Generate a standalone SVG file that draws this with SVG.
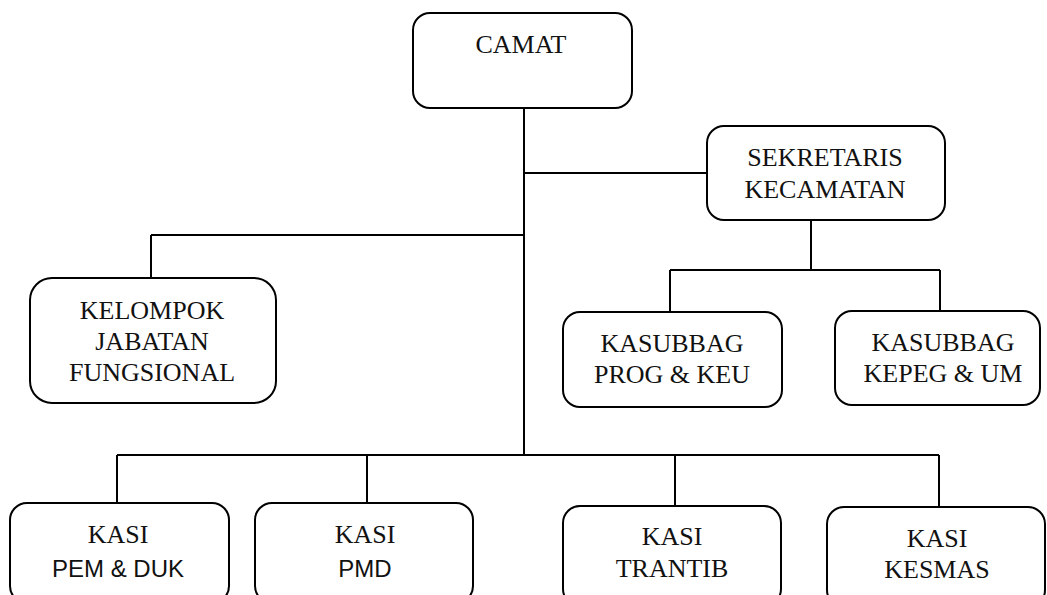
<svg xmlns="http://www.w3.org/2000/svg" width="1047" height="595" viewBox="0 0 1047 595">
<style>
.box{fill:#fff;stroke:#000;stroke-width:2}
.t{font-family:"Liberation Serif","Times New Roman",serif;font-size:26px;fill:#111;text-anchor:middle}
.s{font-family:"Liberation Sans",Arial,sans-serif;font-size:24px;fill:#111;text-anchor:middle}
.c{stroke:#000;stroke-width:2;fill:none}
</style>
<rect width="1047" height="595" fill="#fff"/>
<g id="connectors" class="c">
<line x1="524" y1="108" x2="524" y2="455"/>
<line x1="524" y1="173" x2="707" y2="173"/>
<line x1="151" y1="235" x2="524" y2="235"/>
<line x1="151" y1="235" x2="151" y2="278"/>
<line x1="811" y1="220" x2="811" y2="270"/>
<line x1="670" y1="270" x2="940" y2="270"/>
<line x1="670" y1="270" x2="670" y2="311"/>
<line x1="940" y1="270" x2="940" y2="310"/>
<line x1="117" y1="455" x2="939" y2="455"/>
<line x1="117" y1="455" x2="117" y2="503"/>
<line x1="367" y1="455" x2="367" y2="503"/>
<line x1="675" y1="455" x2="675" y2="506"/>
<line x1="939" y1="455" x2="939" y2="507"/>
</g>
<g id="camat">
<rect class="box" x="413" y="13" width="219" height="95" rx="17"/>
<text class="t" x="521" y="53">CAMAT</text>
</g>
<g id="sekretaris">
<rect class="box" x="707" y="126" width="238" height="94" rx="17"/>
<text class="t" x="825" y="166">SEKRETARIS</text>
<text class="t" x="825" y="198">KECAMATAN</text>
</g>
<g id="kelompok">
<rect class="box" x="30" y="278" width="246" height="125" rx="22"/>
<text class="t" x="152" y="319">KELOMPOK</text>
<text class="t" x="152" y="350">JABATAN</text>
<text class="t" x="152" y="381">FUNGSIONAL</text>
</g>
<g id="kasubbag-prog">
<rect class="box" x="563" y="312" width="219" height="95" rx="17"/>
<text class="t" x="672" y="352">KASUBBAG</text>
<text class="t" x="672" y="383">PROG &amp; KEU</text>
</g>
<g id="kasubbag-kepeg">
<rect class="box" x="835" y="311" width="205" height="94" rx="17"/>
<text class="t" x="943" y="351">KASUBBAG</text>
<text class="t" x="943" y="382">KEPEG &amp; UM</text>
</g>
<g id="kasi-pem">
<rect class="box" x="10" y="503" width="219" height="100" rx="17"/>
<text class="t" x="118" y="543">KASI</text>
<text class="s" x="118" y="577">PEM &amp; DUK</text>
</g>
<g id="kasi-pmd">
<rect class="box" x="255" y="503" width="218" height="100" rx="17"/>
<text class="t" x="365" y="543">KASI</text>
<text class="s" x="365" y="577">PMD</text>
</g>
<g id="kasi-trantib">
<rect class="box" x="563" y="506" width="218" height="100" rx="17"/>
<text class="t" x="672" y="545">KASI</text>
<text class="t" x="672" y="577">TRANTIB</text>
</g>
<g id="kasi-kesmas">
<rect class="box" x="827" y="507" width="218" height="100" rx="17"/>
<text class="t" x="937" y="547">KASI</text>
<text class="t" x="937" y="578">KESMAS</text>
</g>
</svg>
